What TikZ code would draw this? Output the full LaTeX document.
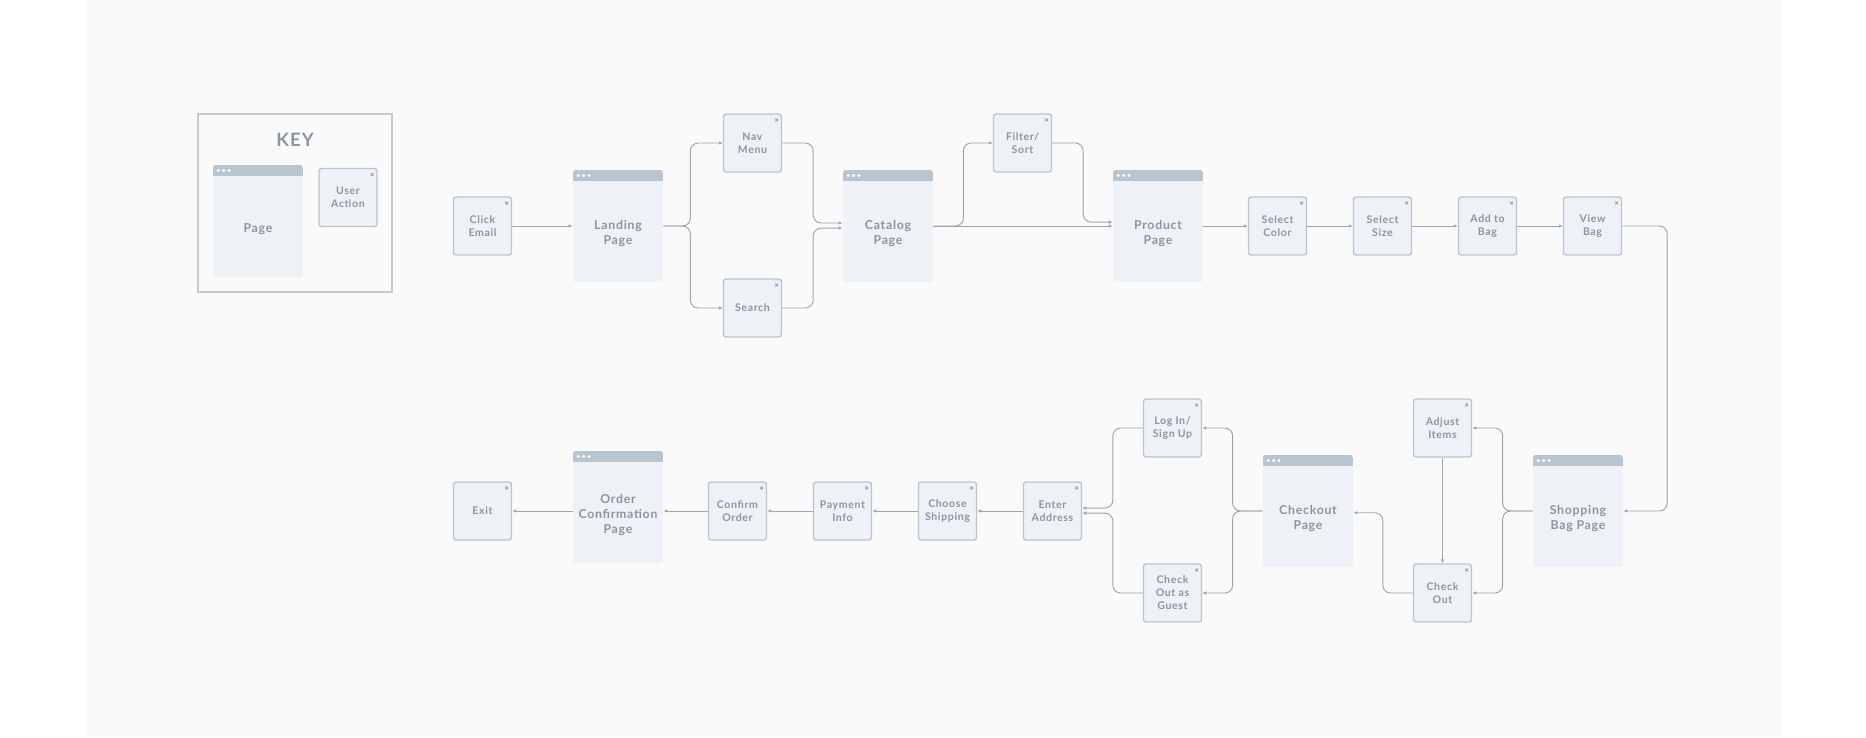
\documentclass[tikz,border=0pt]{standalone}
\usepackage{fontspec}
\setmainfont{Lato}[LetterSpace=6]
\usepackage{tikz}
\usetikzlibrary{arrows.meta}
\definecolor{bggray}{HTML}{FAFAFA}
\definecolor{boxfill}{HTML}{EEF1F5}
\definecolor{boxline}{HTML}{B9C5D1}
\definecolor{keyline}{HTML}{C3CCD5}
\definecolor{barfill}{HTML}{B8C4CF}
\definecolor{txtgray}{HTML}{8A96A2}
\definecolor{linegray}{HTML}{9AA6B2}
\newcommand{\pagetop}{\rule{0pt}{14pt}}

\begin{document}
\begin{tikzpicture}[x=0.02cm, y=-0.02cm,
	actionbox/.style={draw=boxline, fill=boxfill, line width=0.8pt, rounded corners=1.5pt, minimum width=1.16cm, minimum height=1.16cm, inner sep=0pt, align=center, text=txtgray, font=\bfseries\fontsize{6}{7.4}\selectfont,
		path picture={\draw[txtgray, line width=0.45pt, sharp corners] ([xshift=-3.6pt, yshift=-4.2pt]path picture bounding box.north east) -- ++(1.6pt,1.6pt) ++(-1.6pt,0pt) -- ++(1.6pt,-1.6pt);}},
	pagebox/.style={fill=boxfill, rounded corners=1.5pt, minimum width=1.8cm, minimum height=2.24cm, inner sep=0pt, align=center, text=txtgray, font=\bfseries\fontsize{7}{8.5}\selectfont,
		path picture={\fill[barfill, sharp corners] (path picture bounding box.north west) rectangle ([yshift=-0.22cm]path picture bounding box.north east);
			\foreach \d in {3,6.05,9.1} \fill[white] ([xshift=\d pt, yshift=-0.11cm]path picture bounding box.north west) circle (0.95pt);}},
	flow/.style={draw=linegray, line width=0.55pt, rounded corners=4.5pt, -{Latex[length=2.3pt,width=2pt]}}]
	\fill[white] (0,0) rectangle (1866,737);
	\fill[bggray] (84.5,0) rectangle (1781.5,737);

	\draw[keyline, line width=1.1pt] (198,114) rectangle (392,292);
	\node[text=txtgray, font=\bfseries\fontsize{10.5}{12}\selectfont] (keytitle) at (295,140) {KEY};
	\node[pagebox] (keypage) at (258,221) {\pagetop Page};
	\node[actionbox] (keyaction) at (348,197.5) {User\\Action};

	\node[actionbox] (clickemail) at (482.5,226) {Click\\Email};
	\node[pagebox] (landing) at (618,226) {\pagetop Landing\\Page};
	\node[actionbox] (navmenu) at (752.5,143) {Nav\\Menu};
	\node[actionbox] (search) at (752.5,308) {Search};
	\node[pagebox] (catalog) at (888,226) {\pagetop Catalog\\Page};
	\node[actionbox] (filtersort) at (1022.5,143) {Filter/\\Sort};
	\node[pagebox] (product) at (1158,226) {\pagetop Product\\Page};
	\node[actionbox] (selcolor) at (1277.5,226) {Select\\Color};
	\node[actionbox] (selsize) at (1382.5,226) {Select\\Size};
	\node[actionbox] (addbag) at (1487.5,226) {Add to\\Bag};
	\node[actionbox] (viewbag) at (1592.5,226) {View\\Bag};

	\node[pagebox] (shopbag) at (1578,511) {\pagetop Shopping\\Bag Page};
	\node[actionbox] (adjust) at (1442.5,428) {Adjust\\Items};
	\node[actionbox] (checkout) at (1442.5,593) {Check\\Out};
	\node[pagebox] (checkoutpage) at (1308,511) {\pagetop Checkout\\Page};
	\node[actionbox] (login) at (1172.5,428) {Log In/\\Sign Up};
	\node[actionbox] (guest) at (1172.5,593) {Check\\Out as\\Guest};
	\node[actionbox] (address) at (1052.5,511) {Enter\\Address};
	\node[actionbox] (shipping) at (947.5,511) {Choose\\Shipping};
	\node[actionbox] (payment) at (842.5,511) {Payment\\Info};
	\node[actionbox] (confirm) at (737.5,511) {Confirm\\Order};
	\node[pagebox] (orderconf) at (618,507) {\pagetop Order\\Confirmation\\Page};
	\node[actionbox] (exit) at (482.5,511) {Exit};

	\draw[flow] (clickemail) -- (landing);
	\draw[flow] (landing.east) -- ++(27,0) |- (navmenu.west);
	\draw[flow] (landing.east) -- ++(27,0) |- (search.west);
	\draw[flow] (navmenu.east) -- ++(31,0) |- ([yshift=1.7pt]catalog.west);
	\draw[flow] (search.east) -- ++(31,0) |- ([yshift=-1.2pt]catalog.west);
	\draw[flow] (catalog.east) -- (product.west);
	\draw[flow] (catalog.east) -- ++(30,0) |- (filtersort.west);
	\draw[flow] (filtersort.east) -- ++(31,0) |- ([yshift=2.2pt]product.west);
	\foreach \a/\b in {product/selcolor, selcolor/selsize, selsize/addbag, addbag/viewbag}
		\draw[flow] (\a) -- (\b);
	\draw[flow] (viewbag.east) -- ++(45,0) |- (shopbag.east);
	\draw[flow] (shopbag.west) -- ++(-30,0) |- (adjust.east);
	\draw[flow] (shopbag.west) -- ++(-30,0) |- (checkout.east);
	\draw[flow] (adjust) -- (checkout);
	\draw[flow] (checkout.west) -- ++(-30,0) |- ([yshift=-1pt]checkoutpage.east);
	\draw[flow] (checkoutpage.west) -- ++(-30,0) |- (login.east);
	\draw[flow] (checkoutpage.west) -- ++(-30,0) |- (guest.east);
	\draw[flow] (login.west) -- ++(-30,0) |- ([yshift=1.7pt]address.east);
	\draw[flow] (guest.west) -- ++(-30,0) |- ([yshift=-1.2pt]address.east);
	\foreach \a/\b in {address/shipping, shipping/payment, payment/confirm}
		\draw[flow] (\a) -- (\b);
	\draw[flow] (confirm.west) -- (confirm.west -| orderconf.east);
	\draw[flow] (exit.east -| orderconf.west) -- (exit.east);
\end{tikzpicture}
\end{document}
